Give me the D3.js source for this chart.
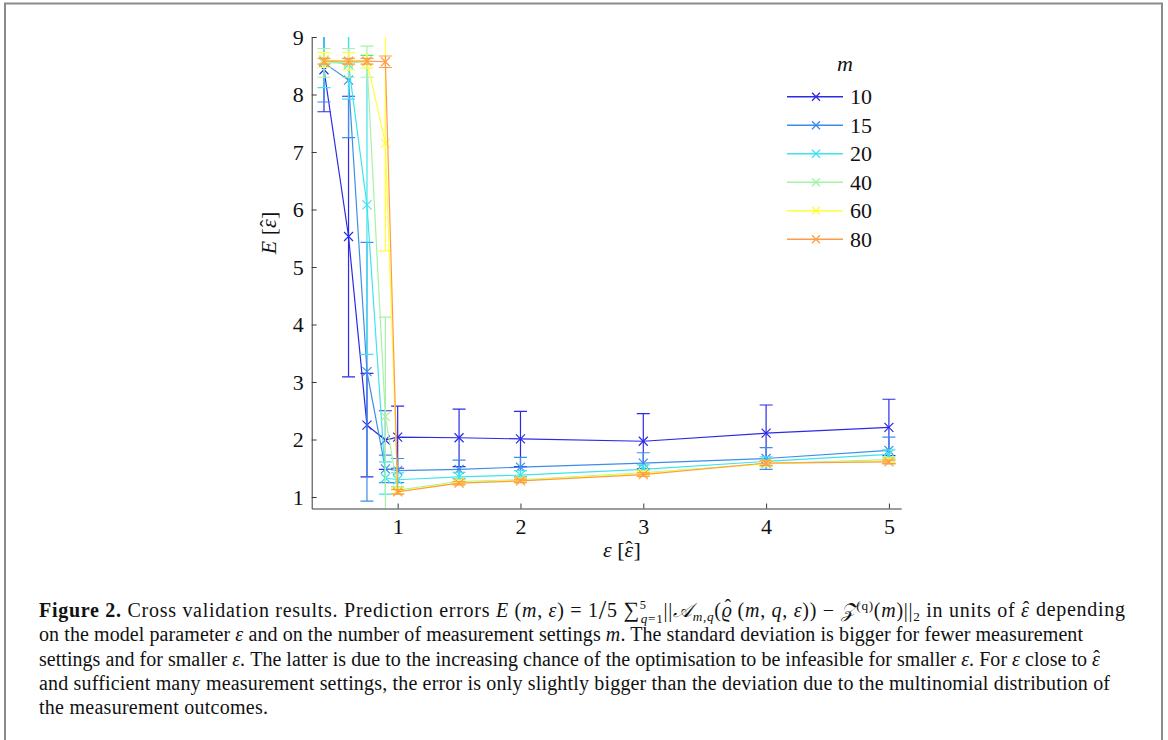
<!DOCTYPE html>
<html>
<head>
<meta charset="utf-8">
<script src="https://cdn.jsdelivr.net/npm/d3@7"></script>
<style>
  body { margin: 0; background: #fff; }
  svg { display: block; }
  text { font-family: "Liberation Serif", "DejaVu Serif", serif; fill: #111; }
</style>
</head>
<body>
<svg id="fig" width="1168" height="740"></svg>
<script>
// epsilon values on the x axis
const epsValues = [0.4, 0.6, 0.75, 0.9, 1, 1.5, 2, 3, 4, 5];

// number of measurement settings
const mLabels = ["10", "15", "20", "40", "60", "80"];
const mColors = ["#2b2be6", "#3d8de8", "#3fe3ee", "#a6f2a6", "#ffff3a", "#ff9c4a"];

// mean prediction error per m
const meanM10 = [8.43, 5.53, 2.25, 1.99, 2.04, 2.03, 2.01, 1.97, 2.11, 2.21];
const meanM15 = [8.55, 8.25, 3.18, 1.49, 1.46, 1.48, 1.52, 1.59, 1.67, 1.81];
const meanM20 = [8.60, 8.52, 6.08, 1.33, 1.30, 1.35, 1.38, 1.48, 1.62, 1.74];
const meanM40 = [8.55, 8.55, 8.57, 2.40, 1.12, 1.27, 1.30, 1.42, 1.58, 1.65];
const meanM60 = [8.60, 8.58, 8.58, 7.15, 1.10, 1.25, 1.29, 1.41, 1.58, 1.63];
const meanM80 = [8.58, 8.58, 8.58, 8.57, 1.09, 1.24, 1.28, 1.39, 1.59, 1.61];

// standard deviation per m
const sdM10 = [0.73, 2.44, 0.90, 0.51, 0.54, 0.50, 0.48, 0.48, 0.49, 0.49];
const sdM15 = [0.68, 1.00, 2.25, 0.24, 0.21, 0.16, 0.17, 0.18, 0.19, 0.23];
const sdM20 = [0.48, 0.60, 2.60, 0.28, 0.12, 0.08, 0.08, 0.08, 0.08, 0.08];
const sdM40 = [0.25, 0.25, 0.27, 1.73, 0.06, 0.04, 0.04, 0.04, 0.05, 0.04];
const sdM60 = [0.13, 0.15, 0.12, 1.87, 0.05, 0.03, 0.03, 0.03, 0.04, 0.03];
const sdM80 = [0.05, 0.05, 0.05, 0.10, 0.04, 0.03, 0.03, 0.03, 0.04, 0.03];

const xTicks = [1, 2, 3, 4, 5];
const yTicks = [1, 2, 3, 4, 5, 6, 7, 8, 9];

const means = [meanM10, meanM15, meanM20, meanM40, meanM60, meanM80];
const sds = [sdM10, sdM15, sdM20, sdM40, sdM60, sdM80];

const svg = d3.select("#fig");

// figure frame
svg.append("path")
    .attr("d", "M5,742 V3.5 H1162 V742")
    .attr("fill", "none")
    .attr("stroke", "#8a8a8a")
    .attr("stroke-width", 2);

const x = d3.scaleLinear().domain([0.3, 5.1]).range([311.7, 901.2]);
const y = d3.scaleLinear().domain([0.8, 9]).range([508.5, 37]);

svg.append("defs").append("clipPath").attr("id", "plotclip")
    .append("rect")
    .attr("x", x.range()[0]).attr("y", y.range()[1])
    .attr("width", x.range()[1] - x.range()[0])
    .attr("height", y.range()[0] - y.range()[1]);

const plot = svg.append("g").attr("clip-path", "url(#plotclip)");

const line = d3.line().x(d => x(d.x)).y(d => y(d.v));
const cross = s => `M${-s},${-s}L${s},${s}M${-s},${s}L${s},${-s}`;

means.forEach((mean, k) => {
    const pts = epsValues.map((e, i) => ({ x: e, v: mean[i], sd: sds[k][i] }));
    const g = plot.append("g").attr("stroke", mColors[k]).attr("fill", "none").attr("stroke-width", 1.2);

    // error bars
    const eb = g.selectAll(".eb").data(pts).enter().append("g");
    eb.append("line")
        .attr("x1", d => x(d.x)).attr("x2", d => x(d.x))
        .attr("y1", d => y(d.v - d.sd)).attr("y2", d => y(d.v + d.sd));
    eb.append("line")
        .attr("x1", d => x(d.x) - 6.5).attr("x2", d => x(d.x) + 6.5)
        .attr("y1", d => y(d.v - d.sd)).attr("y2", d => y(d.v - d.sd));
    eb.append("line")
        .attr("x1", d => x(d.x) - 6.5).attr("x2", d => x(d.x) + 6.5)
        .attr("y1", d => y(d.v + d.sd)).attr("y2", d => y(d.v + d.sd));

    g.append("path").attr("d", line(pts));

    g.selectAll(".mk").data(pts).enter().append("path")
        .attr("transform", d => `translate(${x(d.x)},${y(d.v)})`)
        .attr("d", cross(4.5));
});

// axes, ticks pointing inward
const yAxis = svg.append("g")
    .attr("transform", `translate(${x.range()[0]},0)`)
    .call(d3.axisLeft(y).tickValues(yTicks).tickFormat(d3.format("d"))
        .tickSizeInner(-5).tickSizeOuter(0).tickPadding(8));
const xAxis = svg.append("g")
    .attr("transform", `translate(0,${y.range()[0]})`)
    .call(d3.axisBottom(x).tickValues(xTicks).tickFormat(d3.format("d"))
        .tickSizeInner(-5).tickSizeOuter(0).tickPadding(10));

[xAxis, yAxis].forEach(a => {
    a.attr("font-family", null).attr("font-size", null);
    a.selectAll("path, line").attr("stroke", "#3a3a3a");
    a.selectAll("text").style("font-size", "22px").attr("fill", "#111");
});

// italic epsilon with a hat placed by hand (combining marks misplace in italic)
function epsHat(t, px) {
    t.append("tspan").attr("font-style", "italic").text("ε");
    t.append("tspan").attr("dx", -0.36 * px).attr("dy", -0.05 * px).text("ˆ");
    return t.append("tspan").attr("dx", 0.04 * px).attr("dy", 0.05 * px);
}

// axis labels
const yl = svg.append("text")
    .attr("transform", "translate(276,233) rotate(-90)")
    .attr("text-anchor", "middle")
    .style("font-size", "22px");
yl.append("tspan").attr("font-style", "italic").text("E");
yl.append("tspan").text(" [");
epsHat(yl, 22).text("]");

const xl = svg.append("text")
    .attr("x", 622).attr("y", 557)
    .attr("text-anchor", "middle")
    .style("font-size", "22px");
xl.append("tspan").attr("font-style", "italic").text("ε");
xl.append("tspan").text(" [");
epsHat(xl, 22).text("]");

// legend
svg.append("text").attr("x", 837).attr("y", 71)
    .style("font-size", "22px").attr("font-style", "italic").text("m");

const leg = svg.append("g").selectAll("g").data(mLabels).enter().append("g")
    .attr("transform", (d, i) => `translate(0,${96.7 + i * 28.5})`);
leg.append("line").attr("x1", 787).attr("x2", 843)
    .attr("stroke", (d, i) => mColors[i]).attr("stroke-width", 1.5);
leg.append("path").attr("transform", "translate(816,0)").attr("d", cross(4))
    .attr("stroke", (d, i) => mColors[i]).attr("stroke-width", 1.3).attr("fill", "none");
leg.append("text").attr("x", 850).attr("y", 7.5).style("font-size", "22px").text(d => d);

// caption
const capLines = [
    { w: 1086, segs: [
        { t: "Figure 2.", b: true },
        { t: " Cross validation results. Prediction errors " },
        { t: "E", i: true }, { t: " (" }, { t: "m", i: true }, { t: ", " }, { t: "ε", i: true }, { t: ") = 1" },
        { t: "/", s: 1.35, dy: 2 }, { t: "5 ", dy: -2 },
        { t: "∑", s: 1.1 },
        { t: "5", s: 0.62, dy: -8 },
        { t: "q", s: 0.66, i: true, dy: 14, dx: -6 }, { t: "=1", s: 0.66 },
        { t: "||", dy: -6 }, { t: "𝒜", i: true },
        { t: "m,q", s: 0.66, i: true, dy: 4 },
        { t: "(", dy: -4 }, { t: "ϱ", i: true }, { t: "ˆ", dx: -8, dy: -3 }, { t: " (", dy: 3 },
        { t: "m", i: true }, { t: ", " },
        { t: "q", i: true }, { t: ", " }, { t: "ε", i: true }, { t: ")) − " }, { t: "𝒵", i: true },
        { t: "(q)", s: 0.66, dy: -7 },
        { t: "(", dy: 7 }, { t: "m", i: true }, { t: ")||" },
        { t: "2", s: 0.66, dy: 4 },
        { t: " in units of ", dy: -4 }, { hat: true }, { t: " depending" }
    ]},
    { w: 1044, segs: [
        { t: "on the model parameter " }, { t: "ε", i: true },
        { t: " and on the number of measurement settings " },
        { t: "m", i: true }, { t: ". The standard deviation is bigger for fewer measurement" }
    ]},
    { w: 1061, segs: [
        { t: "settings and for smaller " }, { t: "ε", i: true },
        { t: ". The latter is due to the increasing chance of the optimisation to be infeasible for smaller " },
        { t: "ε", i: true }, { t: ". For " }, { t: "ε", i: true }, { t: " close to " }, { hat: true }
    ]},
    { w: 1071, segs: [
        { t: "and sufficient many measurement settings, the error is only slightly bigger than the deviation due to the multinomial distribution of" }
    ]},
    { w: 229, segs: [
        { t: "the measurement outcomes." }
    ]}
];

const baseSize = 18;
capLines.forEach((ln, li) => {
    const t = svg.append("text")
        .attr("x", 39).attr("y", 617 + li * 24.3)
        .style("font-size", baseSize + "px");
    ln.segs.forEach(sg => {
        if (sg.hat) { epsHat(t, 19); return; }
        const sp = t.append("tspan").text(sg.t);
        if (sg.b) sp.attr("font-weight", "bold");
        if (sg.i) sp.attr("font-style", "italic");
        if (sg.s) sp.attr("font-size", sg.s + "em");
        if (sg.dy) sp.attr("dy", sg.dy);
        if (sg.dx) sp.attr("dx", sg.dx);
    });
    // grow the font towards the printed width, then fit exactly
    const natural = t.node().getComputedTextLength();
    const fs = Math.min(20, baseSize * ln.w / natural);
    t.style("font-size", fs + "px");
    t.attr("textLength", ln.w).attr("lengthAdjust", "spacing");
});
</script>
</body>
</html>
